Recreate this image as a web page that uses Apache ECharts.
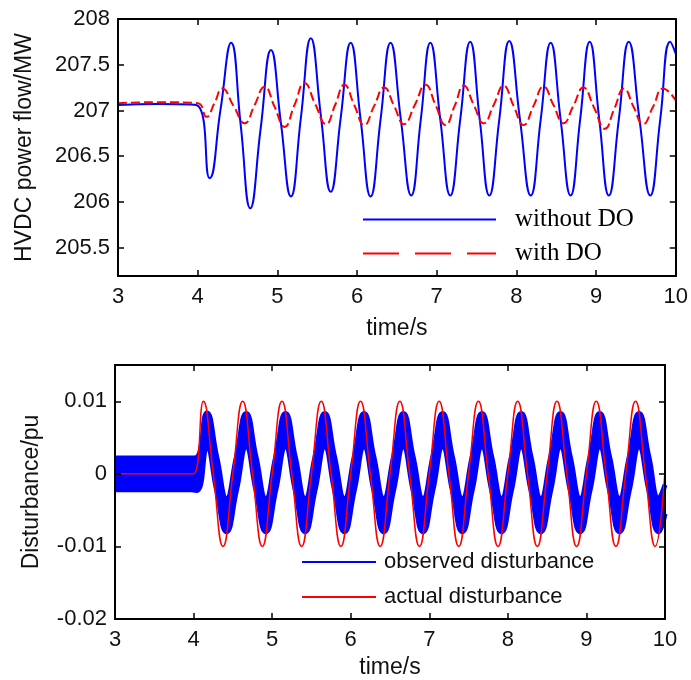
<!DOCTYPE html>
<html>
<head>
<meta charset="utf-8">
<script src="https://cdn.jsdelivr.net/npm/echarts@6/dist/echarts.min.js"></script>
<style>html,body{margin:0;padding:0;background:#fff;}#c{width:691px;height:680px;}</style>
</head>
<body>
<div id="c"></div>
<script>
// ---------- Top panel: HVDC power flow ----------
var timeTopBlue = [3, 3.5, 3.98, 4.15, 4.285, 4.42, 4.54, 4.66, 4.79, 4.92,
  5.045, 5.17, 5.295, 5.42, 5.545, 5.67, 5.795, 5.92,
  6.045, 6.17, 6.295, 6.42, 6.55, 6.68, 6.8, 6.92,
  7.045, 7.17, 7.295, 7.42, 7.54, 7.66, 7.785, 7.91,
  8.045, 8.18, 8.305, 8.43, 8.555, 8.68, 8.8, 8.92,
  9.04, 9.16, 9.285, 9.41, 9.545, 9.68, 9.805, 9.93, 10];
var powerWithoutDO = [207.06, 207.07, 207.06, 206.26, 207.0, 207.74, 206.84, 205.93, 206.8, 207.66,
  206.86, 206.06, 206.92, 207.79, 206.95, 206.11, 206.92, 207.74,
  206.9, 206.06, 206.9, 207.74, 206.9, 206.07, 206.9, 207.74,
  206.9, 206.07, 206.9, 207.75, 206.9, 206.07, 206.9, 207.76,
  206.9, 206.07, 206.9, 207.74, 206.9, 206.07, 206.9, 207.75,
  206.9, 206.07, 206.9, 207.75, 206.9, 206.07, 206.9, 207.75, 207.62];

var timeTopRed = [3, 3.5, 4.0, 4.11, 4.21, 4.31, 4.45, 4.59, 4.715, 4.84, 4.965,
  5.09, 5.215, 5.34, 5.475, 5.61, 5.725, 5.84, 5.965,
  6.09, 6.215, 6.34, 6.465, 6.59, 6.725, 6.86, 6.985,
  7.11, 7.225, 7.34, 7.465, 7.59, 7.715, 7.84, 7.965,
  8.09, 8.215, 8.34, 8.465, 8.59, 8.715, 8.84, 8.975,
  9.11, 9.23, 9.35, 9.47, 9.59, 9.715, 9.84, 10];
var powerWithDO = [207.08, 207.09, 207.08, 206.93, 207.08, 207.24, 207.05, 206.86, 207.06, 207.26, 207.04,
  206.82, 207.06, 207.30, 207.07, 206.85, 207.06, 207.28, 207.06,
  206.84, 207.05, 207.25, 207.05, 206.85, 207.06, 207.28, 207.06,
  206.84, 207.05, 207.27, 207.06, 206.86, 207.06, 207.27, 207.05,
  206.84, 207.05, 207.26, 207.06, 206.86, 207.05, 207.25, 207.03,
  206.80, 207.02, 207.24, 207.04, 206.85, 207.04, 207.24, 207.11];

var topXTicks = [3, 4, 5, 6, 7, 8, 9, 10];
var topYTicks = [205.5, 206, 206.5, 207, 207.5, 208];

// ---------- Bottom panel: disturbance ----------
var timeObserved = [3, 3.97, 4.045, 4.17, 4.295, 4.42, 4.545, 4.67, 4.795, 4.92,
  5.045, 5.17, 5.295, 5.42, 5.545, 5.67, 5.795, 5.92,
  6.045, 6.17, 6.295, 6.42, 6.545, 6.67, 6.795, 6.92,
  7.045, 7.17, 7.295, 7.42, 7.545, 7.67, 7.795, 7.92,
  8.045, 8.17, 8.295, 8.42, 8.545, 8.67, 8.795, 8.92,
  9.045, 9.17, 9.295, 9.42, 9.545, 9.67, 9.795, 9.92, 10];
var observedUpper = [0.0022, 0.0022, 0.0023, 0.0084, 0.0023, -0.0034, 0.0023, 0.0083, 0.0023, -0.0034,
  0.0023, 0.0083, 0.0023, -0.0034, 0.0023, 0.0083, 0.0023, -0.0034,
  0.0023, 0.0083, 0.0023, -0.0034, 0.0023, 0.0083, 0.0023, -0.0034,
  0.0023, 0.0083, 0.0023, -0.0034, 0.0023, 0.0083, 0.0023, -0.0034,
  0.0023, 0.0083, 0.0023, -0.0034, 0.0023, 0.0083, 0.0023, -0.0034,
  0.0023, 0.0083, 0.0023, -0.0034, 0.0023, 0.0083, 0.0023, -0.0034, -0.0015];
var observedLower = [-0.0022, -0.0022, -0.0023, 0.0037, -0.0023, -0.0080, -0.0023, 0.0037, -0.0023, -0.0080,
  -0.0023, 0.0037, -0.0023, -0.0080, -0.0023, 0.0037, -0.0023, -0.0080,
  -0.0023, 0.0037, -0.0023, -0.0080, -0.0023, 0.0037, -0.0023, -0.0080,
  -0.0023, 0.0037, -0.0023, -0.0080, -0.0023, 0.0037, -0.0023, -0.0080,
  -0.0023, 0.0037, -0.0023, -0.0080, -0.0023, 0.0037, -0.0023, -0.0080,
  -0.0023, 0.0037, -0.0023, -0.0080, -0.0023, 0.0037, -0.0023, -0.0080, -0.0055];

var timeActual = [3, 3.9, 4, 4.125, 4.25, 4.375, 4.5, 4.625, 4.75, 4.875,
  5, 5.125, 5.25, 5.375, 5.5, 5.625, 5.75, 5.875,
  6, 6.125, 6.25, 6.375, 6.5, 6.625, 6.75, 6.875,
  7, 7.125, 7.25, 7.375, 7.5, 7.625, 7.75, 7.875,
  8, 8.125, 8.25, 8.375, 8.5, 8.625, 8.75, 8.875,
  9, 9.125, 9.25, 9.375, 9.5, 9.625, 9.75, 9.875, 10];
var actualDisturbance = [0, 0, 0, 0.01, 0, -0.01, 0, 0.01, 0, -0.01,
  0, 0.01, 0, -0.01, 0, 0.01, 0, -0.01,
  0, 0.01, 0, -0.01, 0, 0.01, 0, -0.01,
  0, 0.01, 0, -0.01, 0, 0.01, 0, -0.01,
  0, 0.01, 0, -0.01, 0, 0.01, 0, -0.01,
  0, 0.01, 0, -0.01, 0, 0.01, 0, -0.01, 0.0004];

var botXTicks = [3, 4, 5, 6, 7, 8, 9, 10];
var botYTicks = [-0.02, -0.01, 0, 0.01];

function pairs(t, v) { return t.map(function (x, i) { return [x, v[i]]; }); }

var SANS = 'Liberation Sans, Arial, sans-serif';
var TXT = '#111';

function makeX(grid, pos, isMain, ticks, name, nameGap) {
  return {
    type: 'value', gridIndex: grid, position: pos, min: 3, max: 10, z: 5,
    axisLine: { show: true, onZero: false, lineStyle: { color: '#000', width: 2 } },
    axisTick: { show: true, inside: true, length: 6, customValues: ticks, lineStyle: { color: '#000', width: 1.5 } },
    axisLabel: { show: isMain, customValues: ticks, fontSize: 22, fontFamily: SANS, color: TXT, margin: 10 },
    splitLine: { show: false },
    name: isMain ? name : '', nameLocation: 'middle', nameGap: nameGap,
    nameTextStyle: { fontSize: 23, fontFamily: SANS, color: TXT }
  };
}
function makeY(grid, pos, isMain, min, max, ticks, name, nameGap) {
  return {
    type: 'value', gridIndex: grid, position: pos, min: min, max: max, z: 5,
    axisLine: { show: true, onZero: false, lineStyle: { color: '#000', width: 2 } },
    axisTick: { show: true, inside: true, length: 6, customValues: ticks, lineStyle: { color: '#000', width: 1.5 } },
    axisLabel: { show: isMain, customValues: ticks, fontSize: 22, fontFamily: SANS, color: TXT, margin: 8 },
    splitLine: { show: false },
    name: isMain ? name : '', nameLocation: 'middle', nameGap: nameGap, nameRotate: 90,
    nameTextStyle: { fontSize: 23, fontFamily: SANS, color: TXT }
  };
}

var chart = echarts.init(document.getElementById('c'), null, { renderer: 'canvas' });
chart.setOption({
  animation: false,
  backgroundColor: '#fff',
  grid: [
    { left: 118, top: 19, width: 559, height: 257 },
    { left: 115, top: 365, width: 550, height: 254 }
  ],
  xAxis: [
    makeX(0, 'bottom', true, topXTicks, 'time/s', 41),
    makeX(0, 'top', false, topXTicks, '', 0),
    makeX(1, 'bottom', true, botXTicks, 'time/s', 37),
    makeX(1, 'top', false, botXTicks, '', 0)
  ],
  yAxis: [
    makeY(0, 'left', true, 205.19, 208, topYTicks, 'HVDC power flow/MW', 82),
    makeY(0, 'right', false, 205.19, 208, topYTicks, '', 0),
    makeY(1, 'left', true, -0.02, 0.015, botYTicks, 'Disturbance/pu', 72),
    makeY(1, 'right', false, -0.02, 0.015, botYTicks, '', 0)
  ],
  legend: [
    {
      data: [{ name: 'without DO' }, { name: 'with DO', lineStyle: { type: [36, 16] } }],
      orient: 'vertical', left: 362, top: 207, padding: 0, itemGap: 9,
      itemWidth: 133, itemHeight: 10, selectedMode: false,
      itemStyle: { opacity: 0 },
      textStyle: { fontFamily: 'Liberation Serif, Times New Roman, serif', fontSize: 25, lineHeight: 25, color: '#000', padding: [0, 0, 0, 14] }
    },
    {
      data: [{ name: 'observed disturbance', lineStyle: { width: 2 } }, { name: 'actual disturbance' }],
      orient: 'vertical', left: 301, top: 551, padding: 0, itemGap: 13,
      itemWidth: 74, itemHeight: 10, selectedMode: false,
      itemStyle: { opacity: 0 },
      textStyle: { fontFamily: SANS, fontSize: 22, lineHeight: 22, color: TXT, padding: [0, 0, 0, 3] }
    }
  ],
  series: [
    {
      name: 'without DO', type: 'line', xAxisIndex: 0, yAxisIndex: 0,
      data: pairs(timeTopBlue, powerWithoutDO), smooth: 0.5, symbol: 'none',
      lineStyle: { color: '#0000ff', width: 2 }, itemStyle: { color: '#0000ff' }
    },
    {
      name: 'with DO', type: 'line', xAxisIndex: 0, yAxisIndex: 0,
      data: pairs(timeTopRed, powerWithDO), smooth: 0.5, symbol: 'none',
      lineStyle: { color: '#ff0000', width: 2, type: [9, 4] }, itemStyle: { color: '#ff0000' }
    },
    {
      name: 'observed disturbance', type: 'line', xAxisIndex: 2, yAxisIndex: 2,
      data: pairs(timeObserved, observedUpper), smooth: 0.5, symbol: 'none',
      lineStyle: { color: '#0000ff', width: 5 }, itemStyle: { color: '#0000ff' },
      areaStyle: { color: '#0000ff', opacity: 1, origin: 'start' }
    },
    {
      name: 'observed lower edge', type: 'line', xAxisIndex: 2, yAxisIndex: 2,
      data: pairs(timeObserved, observedLower), smooth: 0.5, symbol: 'none',
      lineStyle: { color: '#0000ff', width: 5 }, itemStyle: { color: '#0000ff' },
      areaStyle: { color: '#ffffff', opacity: 1, origin: 'start' }
    },
    {
      name: 'actual disturbance', type: 'line', xAxisIndex: 2, yAxisIndex: 2,
      data: pairs(timeActual, actualDisturbance), smooth: 0.5, symbol: 'none',
      lineStyle: { color: '#ff0000', width: 1.5 }, itemStyle: { color: '#ff0000' }
    }
  ]
});
</script>
</body>
</html>
